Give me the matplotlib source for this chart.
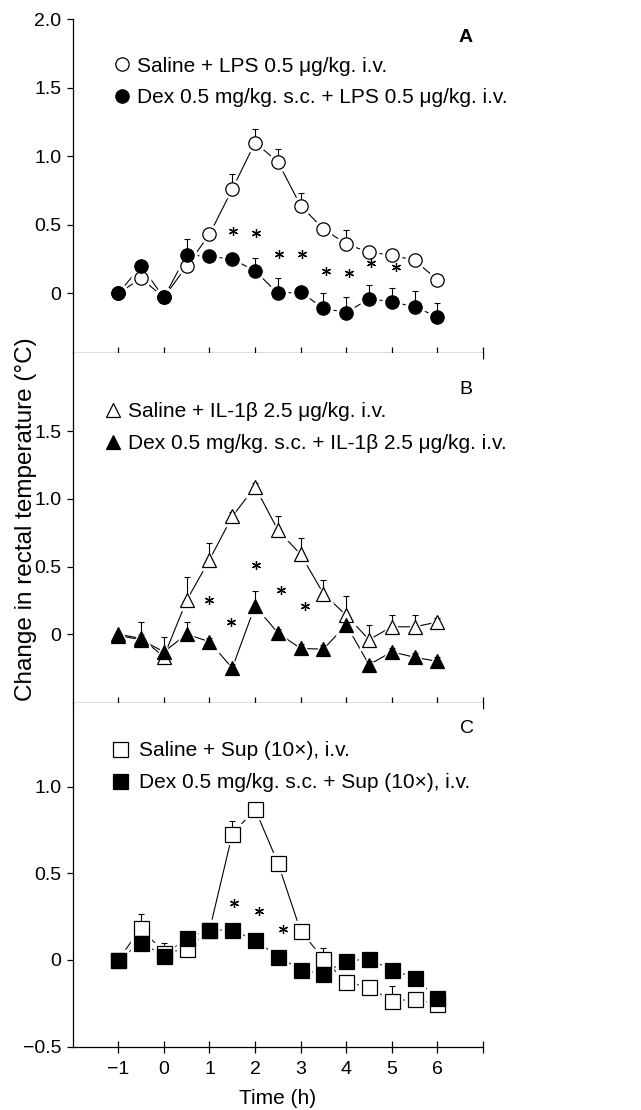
# -*- coding: utf-8 -*-
"""
Rectal temperature change after LPS / IL-1b / Sup, with and without Dex
three stacked panels sharing the time axis
"""
import matplotlib.pyplot as plt
from matplotlib.lines import Line2D
from matplotlib.ticker import FuncFormatter
import numpy as np

plt.rcParams['font.family'] = ['Liberation Sans', 'DejaVu Sans']
plt.rcParams['axes.unicode_minus'] = True

time_h = [-1, -0.5, 0, 0.5, 1, 1.5, 2, 2.5, 3, 3.5, 4, 4.5, 5, 5.5, 6]

# panel A - LPS
saline_lps = [0.0, 0.11, -0.03, 0.20, 0.43, 0.76, 1.10, 0.96, 0.64, 0.47, 0.36, 0.30, 0.28, 0.24, 0.10]
saline_lps_err = [0.02, 0.03, 0.03, 0.03, 0.03, 0.11, 0.10, 0.09, 0.09, 0.03, 0.10, 0.03, 0.03, 0.03, 0.03]
dex_lps = [0.0, 0.20, -0.03, 0.28, 0.27, 0.25, 0.165, 0.0, 0.01, -0.11, -0.14, -0.04, -0.06, -0.10, -0.17]
dex_lps_err = [0.02, 0.03, 0.03, 0.12, 0.03, 0.03, 0.09, 0.11, 0.03, 0.11, 0.11, 0.10, 0.10, 0.12, 0.10]
sig_a_x = [1.52, 2.02, 2.52, 3.02, 3.55, 4.05, 4.55, 5.1]
sig_a_y = [0.455, 0.44, 0.285, 0.285, 0.165, 0.146, 0.22, 0.19]

# panel B - IL-1b
saline_il = [0.0, -0.03, -0.165, 0.25, 0.55, 0.87, 1.09, 0.77, 0.59, 0.30, 0.14, -0.04, 0.055, 0.055, 0.09]
saline_il_err = [0.02, 0.03, 0.03, 0.175, 0.125, 0.03, 0.03, 0.10, 0.12, 0.10, 0.14, 0.11, 0.09, 0.09, 0.03]
dex_il = [-0.01, -0.04, -0.13, 0.0, -0.055, -0.25, 0.21, 0.01, -0.105, -0.11, 0.07, -0.225, -0.13, -0.17, -0.20]
dex_il_err = [0.02, 0.13, 0.11, 0.09, 0.03, 0.03, 0.11, 0.03, 0.03, 0.03, 0.03, 0.03, 0.03, 0.03, 0.03]
sig_b_x = [0.98, 1.48, 2.02, 2.58, 3.1]
sig_b_y = [0.25, 0.093, 0.51, 0.33, 0.21]

# panel C - Sup
saline_sup = [0.0, 0.186, 0.04, 0.063, 0.17, 0.725, 0.87, 0.56, 0.167, 0.006, -0.128, -0.157, -0.235, -0.227, -0.255]
saline_sup_err = [0.02, 0.08, 0.06, 0.03, 0.03, 0.075, 0.03, 0.03, 0.03, 0.065, 0.03, 0.03, 0.085, 0.03, 0.03]
dex_sup = [0.0, 0.10, 0.025, 0.127, 0.173, 0.173, 0.114, 0.02, -0.055, -0.08, -0.004, 0.004, -0.055, -0.104, -0.22]
dex_sup_err = [0.02, 0.03, 0.03, 0.03, 0.03, 0.03, 0.03, 0.03, 0.03, 0.03, 0.03, 0.03, 0.03, 0.03, 0.03]
sig_c_x = [1.53, 2.08, 2.62]
sig_c_y = [0.33, 0.28, 0.176]

labels_a = ['Saline + LPS 0.5 \u03bcg/kg. i.v.',
            'Dex 0.5 mg/kg. s.c. + LPS 0.5 \u03bcg/kg. i.v.']
labels_b = ['Saline + IL-1\u03b2 2.5 \u03bcg/kg. i.v.',
            'Dex 0.5 mg/kg. s.c. + IL-1\u03b2 2.5 \u03bcg/kg. i.v.']
labels_c = ['Saline + Sup (10\u00d7), i.v.',
            'Dex 0.5 mg/kg. s.c. + Sup (10\u00d7), i.v.']


def _fmt_y(v, p):
   if abs(v) < 1e-9:
      return '0'
   return ('%.1f' % v).replace('-', '\u2212')


def _fmt_x(v, p):
   if v > 6.5:
      return ''
   return ('%d' % v).replace('-', '\u2212')


def _series(ax, x, y, err, marker, ms, filled):
   '''one series: thin line, white halo so line stops short of markers, error cap, marker'''
   ax.plot(x, y, '-', color='black', lw=0.8, zorder=2)
   ax.plot(x, y, ls='none', marker=marker, ms=ms + 4, mfc='white', mec='white', zorder=3)
   ax.errorbar(x, y, yerr=[np.zeros(len(err)), err], fmt='none', ecolor='black',
               elinewidth=0.8, capsize=2.5, capthick=0.8, zorder=3)
   fc = 'black' if filled else 'white'
   ax.plot(x, y, ls='none', marker=marker, ms=ms, mfc=fc, mec='black', mew=0.9, zorder=4)


def _panel(ax, s_open, s_open_err, s_fill, s_fill_err, sx, sy, marker, ms, labels,
           letter, letter_pos, leg_anchor, textpad, ylim, yticks):
   _series(ax, time_h, s_open, s_open_err, marker, ms, False)
   _series(ax, time_h, s_fill, s_fill_err, marker, ms, True)
   ax.plot(sx, sy, ls='none', marker=(6, 2, 0), ms=6.5, mew=0.9, color='black', zorder=5)
   ax.set_xlim(-2, 7)
   ax.set_ylim(ylim)
   ax.set_yticks(yticks)
   ax.set_xticks([-1, 0, 1, 2, 3, 4, 5, 6, 7])
   ax.yaxis.set_major_formatter(FuncFormatter(_fmt_y))
   ax.xaxis.set_major_formatter(FuncFormatter(_fmt_x))
   for side in ['top', 'right']:
      ax.spines[side].set_visible(False)
   ax.spines['left'].set_linewidth(0.9)
   ax.spines['bottom'].set_linewidth(0.9)
   ax.tick_params(axis='y', direction='out', length=4, width=0.9, labelsize=14, pad=4)
   ax.tick_params(axis='x', direction='inout', length=8, width=0.9, labelsize=14, pad=6)
   handles = [Line2D([], [], ls='none', marker=marker, ms=ms, mfc='white', mec='black', mew=0.9),
              Line2D([], [], ls='none', marker=marker, ms=ms, mfc='black', mec='black', mew=0.9)]
   ax.legend(handles, labels, loc='upper left', bbox_to_anchor=leg_anchor, frameon=False,
             fontsize=15, handlelength=1.0, handletextpad=textpad, labelspacing=0.6,
             borderpad=0, borderaxespad=0)
   ax.text(letter_pos[0], letter_pos[1], letter, transform=ax.transAxes, fontsize=14,
           ha='center', va='center', fontweight='bold' if letter == 'A' else 'normal')


W, H = 641, 1110
fig = plt.figure(figsize=(W / 100, H / 100), dpi=100)
left = 72.7 / W
width = (483 - 72.7) / W
ax_a = fig.add_axes([left, 1 - 352.7 / H, width, (352.7 - 19.3) / H])
ax_b = fig.add_axes([left, 1 - 703.3 / H, width, (703.3 - 352.7) / H])
ax_c = fig.add_axes([left, 1 - 1046.7 / H, width, (1046.7 - 703.3) / H])

_panel(ax_a, saline_lps, saline_lps_err, dex_lps, dex_lps_err, sig_a_x, sig_a_y, 'o', 9.6,
       labels_a, 'A', (0.958, 0.944), (0.095, 0.888), 0.22, (-0.433, 2.0), [0, 0.5, 1.0, 1.5, 2.0])
_panel(ax_b, saline_il, saline_il_err, dex_il, dex_il_err, sig_b_x, sig_b_y, '^', 10.5,
       labels_b, 'B', (0.958, 0.894), (0.073, 0.858), 0.22, (-0.51, 2.08), [0, 0.5, 1.0, 1.5])
_panel(ax_c, saline_sup, saline_sup_err, dex_sup, dex_sup_err, sig_c_x, sig_c_y, 's', 10.8,
       labels_c, 'C', (0.96, 0.928), (0.09, 0.889), 0.4, (-0.5, 1.48), [-0.5, 0, 0.5, 1.0])

for ax in [ax_a, ax_b]:
   ax.tick_params(axis='x', labelbottom=False)

ax_c.set_xlabel('Time (h)', fontsize=15, labelpad=8)
fig.text(26 / W, 1 - 519 / H, 'Change in rectal temperature (\u00b0C)', rotation=90,
         fontsize=17.5, ha='center', va='center')

fig.savefig('out.png', dpi=100)
